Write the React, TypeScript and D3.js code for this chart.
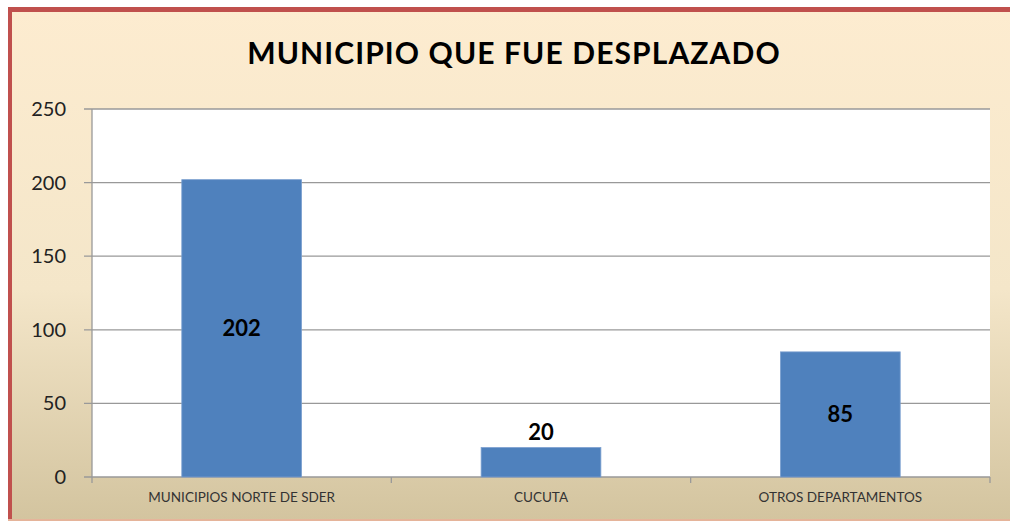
import React from "react";
import * as d3 from "d3";

const categories = ["MUNICIPIOS NORTE DE SDER", "CUCUTA", "OTROS DEPARTAMENTOS"];
const values = [202, 20, 85];
const yTicks = [0, 50, 100, 150, 200, 250];
const title = "MUNICIPIO QUE FUE DESPLAZADO";

export default function App() {
  const W = 1010, H = 521;
  const plot = { left: 92, right: 990, top: 109, bottom: 477 };
  const x = d3.scaleBand<string>().domain(categories).range([plot.left, plot.right]).paddingInner(0.6).paddingOuter(0.3);
  const band = d3.scaleBand<string>().domain(categories).range([plot.left, plot.right]);
  const y = d3.scaleLinear().domain([0, 250]).range([plot.bottom, plot.top]);
  const font = "Lato, 'Open Sans', sans-serif";
  return (
    <svg width={W} height={H} style={{ position: "absolute", left: 0, top: 0 }}>
      <defs>
        <linearGradient id="bg" x1="0" y1="0" x2="0" y2="1">
          <stop offset="0" stopColor="#FDECD0" />
          <stop offset="0.55" stopColor="#F4E6C9" />
          <stop offset="1" stopColor="#D3C49F" />
        </linearGradient>
      </defs>
      <rect x={0} y={0} width={W} height={H} fill="#ffffff" />
      <rect x={8} y={7} width={W - 8} height={513} fill="url(#bg)" />
      <rect x={8} y={7} width={W - 8} height={5} fill="#C0504D" />
      <rect x={8} y={7} width={4} height={513} fill="#C0504D" />
      <rect x={8} y={519} width={W - 8} height={2} fill="#E5B49A" />
      <text x={514} y={64} textAnchor="middle" fontFamily={font} fontWeight="bold" fontSize={30} letterSpacing={1.1} fill="#000">{title}</text>
      <rect x={plot.left} y={plot.top} width={plot.right - plot.left} height={plot.bottom - plot.top} fill="#ffffff" />
      {yTicks.map(t => (
        <g key={t}>
          <line x1={plot.left - 8} x2={plot.right} y1={y(t)} y2={y(t)} stroke="#999" strokeWidth={1.3} />
          <text x={66} y={y(t)} dy="0.35em" textAnchor="end" fontFamily={font} fontSize={20} fill="#222">{t}</text>
        </g>
      ))}
      <line x1={plot.left} x2={plot.left} y1={plot.top} y2={plot.bottom} stroke="#999" strokeWidth={1.3} />
      {categories.map((c, i) => (
        <line key={"t" + i} x1={band(c)! + band.bandwidth()} x2={band(c)! + band.bandwidth()} y1={plot.bottom} y2={plot.bottom + 6} stroke="#999" strokeWidth={1.3} />
      ))}
      <line x1={plot.left} x2={plot.left} y1={plot.bottom} y2={plot.bottom + 6} stroke="#999" strokeWidth={1.3} />
      {categories.map((c, i) => {
        const bx = x(c)!;
        const by = y(values[i]);
        const h = plot.bottom - by;
        const cx = bx + x.bandwidth() / 2;
        const ly = h < 40 ? by - 15 : by + h / 2;
        return (
          <g key={c}>
            <rect x={bx} y={by} width={x.bandwidth()} height={h} fill="#4F81BD" stroke="#7A9FCF" strokeWidth={0.8} />
            <text x={cx} y={ly} dy="0.35em" textAnchor="middle" fontFamily={font} fontWeight="bold" fontSize={22} fill="#000">{values[i]}</text>
            <text x={band(c)! + band.bandwidth() / 2} y={497} dy="0.35em" textAnchor="middle" fontFamily={font} fontSize={13.5} fill="#333">{c}</text>
          </g>
        );
      })}
    </svg>
  );
}
